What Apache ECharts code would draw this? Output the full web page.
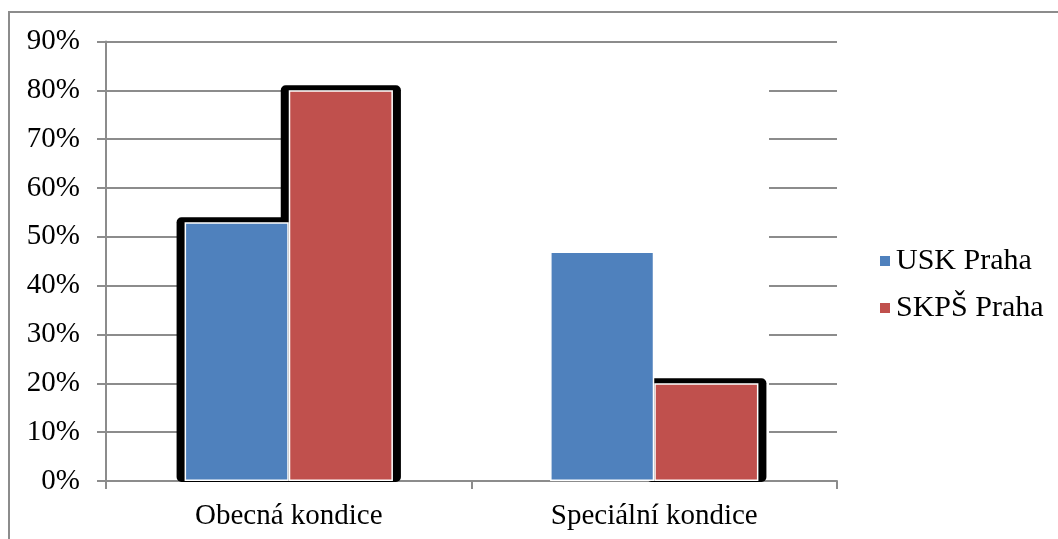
<!DOCTYPE html>
<html>
<head>
<meta charset="utf-8">
<script src="https://cdn.jsdelivr.net/npm/echarts@6/dist/echarts.min.js"></script>
<style>
  html, body { margin: 0; padding: 0; background: #fff; }
  #chart { width: 1058px; height: 539px; }
</style>
</head>
<body>
<div id="chart"></div>
<script>
// ---- data ----
const categories = ['Obecná kondice', 'Speciální kondice'];
const seriesNames = ['USK Praha', 'SKPŠ Praha'];
const uskPraha = [53, 47];
const skpsPraha = [80, 20];
const yMax = 90;
const yStep = 10;

// ---- styling ----
const colors = ['#4F81BD', '#C0504D'];
const gridColor = '#8c8c8c';
const font = 'Liberation Serif, Times New Roman, serif';
const catGap = 0.43;
// bars that carry the black outline effect: [categoryIndex, seriesIndex]
const outlinedBars = [[0, 0], [0, 1], [1, 1]];
const valuesBySeries = [uskPraha, skpsPraha];

const chart = echarts.init(document.getElementById('chart'), null, { renderer: 'canvas' });

const option = {
  animation: false,
  backgroundColor: '#fff',
  grid: { left: 106, right: 221, top: 41.5, bottom: 58, containLabel: false },
  legend: {
    orient: 'vertical',
    left: 873,
    top: 241,
    icon: 'rect',
    itemWidth: 12,
    itemHeight: 12,
    itemGap: 17,
    data: seriesNames,
    textStyle: { fontFamily: font, fontSize: 30, color: '#000' }
  },
  graphic: [
    {
      type: 'rect', z: 0,
      shape: { x: 9, y: 12, width: 1200, height: 700 },
      style: { fill: 'none', stroke: '#8c8c8c', lineWidth: 2 }
    },
    {
      type: 'rect', z: 1,
      shape: { x: 396, y: 44, width: 373, height: 435 },
      style: { fill: '#fff' }
    }
  ],
  xAxis: {
    type: 'category',
    data: categories,
    axisLine: { show: true, lineStyle: { color: gridColor, width: 2 } },
    axisTick: { show: true, interval: 0, length: 8, alignWithLabel: false, lineStyle: { color: gridColor, width: 2 } },
    axisLabel: { fontFamily: font, fontSize: 29, color: '#000', margin: 21, interval: 0 },
    splitLine: { show: false }
  },
  yAxis: {
    type: 'value',
    min: 0,
    max: yMax,
    interval: yStep,
    axisLine: { show: true, lineStyle: { color: gridColor, width: 2 } },
    axisTick: { show: true, length: 9, lineStyle: { color: gridColor, width: 2 } },
    axisLabel: { fontFamily: font, fontSize: 29, color: '#000', margin: 26, formatter: '{value}%' },
    splitLine: { show: true, lineStyle: { color: gridColor, width: 2 } }
  },
  series: [
    {
      type: 'custom',
      z: 2,
      silent: true,
      encode: { x: 0, y: 1 },
      data: outlinedBars.map(([c, s]) => [c, valuesBySeries[s][c], s]),
      renderItem: function (params, api) {
        const cat = api.value(0);
        const val = api.value(1);
        const s = api.value(2);
        const top = api.coord([cat, val]);
        const base = api.coord([cat, 0]);
        const catW = api.size([1, 0])[0];
        const bw = catW * (1 - catGap) / 2;
        const x0 = s === 0 ? top[0] - bw : top[0];
        return {
          type: 'rect',
          shape: { x: x0 - 8, y: top[1] - 5, width: bw + 16, height: base[1] - top[1] + 6, r: 5 },
          style: { fill: '#000' }
        };
      }
    },
    {
      name: seriesNames[0],
      type: 'bar',
      z: 3,
      data: uskPraha,
      barGap: '0%',
      barCategoryGap: (catGap * 100) + '%',
      itemStyle: { color: colors[0], borderColor: '#ffffff', borderWidth: 1.5 }
    },
    {
      name: seriesNames[1],
      type: 'bar',
      z: 3,
      data: skpsPraha,
      barGap: '0%',
      barCategoryGap: (catGap * 100) + '%',
      itemStyle: { color: colors[1], borderColor: '#ffffff', borderWidth: 1.5 }
    }
  ]
};

chart.setOption(option);
</script>
</body>
</html>
